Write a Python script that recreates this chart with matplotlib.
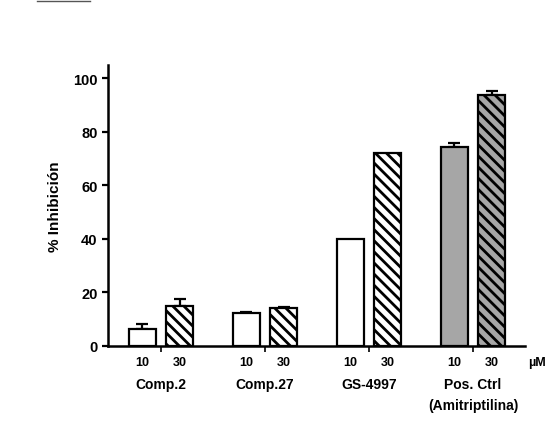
import matplotlib
matplotlib.use('Agg')
import matplotlib.pyplot as plt
import numpy as np

plt.rcParams['font.family'] = ['Liberation Sans', 'DejaVu Sans']
plt.rcParams['hatch.linewidth'] = 2.0

groups = ["Comp.2", "Comp.27", "GS-4997", "Pos. Ctrl\n(Amitriptilina)"]
doses = ["10", "30"]
vals_10 = [6.5, 12.2, 40.0, 74.3]
err_10 = [1.8, 0.5, 0.0, 1.6]
vals_30 = [15.0, 14.2, 72.0, 93.7]
err_30 = [2.4, 0.5, 0.0, 1.4]
fill_10 = ["white", "white", "white", "#a6a6a6"]
fill_30 = ["white", "white", "white", "#a6a6a6"]

fig = plt.figure(figsize=(5.53, 4.31), dpi=100)
ax = fig.add_axes([108 / 553, 84 / 431, (525 - 108) / 553, (347 - 66) / 431])

x = np.arange(len(groups))
off = 0.18
w = 0.26
ax.bar(x - off, vals_10, w, color=fill_10, edgecolor="black", linewidth=1.6, zorder=2)
ax.bar(x + off, vals_30, w, color=fill_30, edgecolor="black", linewidth=1.6,
       hatch="\\\\\\", zorder=2)
for xi, v, e in zip(x - off, vals_10, err_10):
    if e > 0:
        ax.errorbar(xi, v, yerr=[[0], [e]], color="black", capsize=4, elinewidth=1.6,
                    capthick=1.6, zorder=1)
for xi, v, e in zip(x + off, vals_30, err_30):
    if e > 0:
        ax.errorbar(xi, v, yerr=[[0], [e]], color="black", capsize=4, elinewidth=1.6,
                    capthick=1.6, zorder=1)

ax.set_xlim(-0.51, 3.5)
ax.set_ylim(0, 105)
ax.set_yticks([0, 20, 40, 60, 80, 100])
ax.tick_params(axis='y', labelsize=10.5, width=1.6, length=4)
for lab in ax.get_yticklabels():
    lab.set_fontweight("bold")
ax.set_xticks(x)
ax.set_xticklabels([])
ax.tick_params(axis='x', direction='out', length=4, width=1.2)
for s in ["top", "right"]:
    ax.spines[s].set_visible(False)
ax.spines["left"].set_linewidth(1.8)
ax.spines["bottom"].set_linewidth(1.8)
ax.set_ylabel("% Inhibición", fontsize=11, fontweight="bold", labelpad=8)

trans = ax.get_xaxis_transform()
for i in range(len(groups)):
    ax.text(x[i] - off, -0.035, doses[0], transform=trans, ha="center", va="top",
            fontsize=9, fontweight="bold")
    ax.text(x[i] + off, -0.035, doses[1], transform=trans, ha="center", va="top",
            fontsize=9, fontweight="bold")
    ax.text(x[i], -0.11, groups[i], transform=trans, ha="center", va="top",
            fontsize=10, fontweight="semibold", linespacing=1.6)
ax.text(3.53, -0.035, "µM", transform=trans, ha="left", va="top", fontsize=9,
        fontweight="bold", clip_on=False)

fig.add_artist(plt.Line2D([37 / 553, 90 / 553], [1 - 2 / 431, 1 - 2 / 431],
                          color="#555555", linewidth=1))

plt.savefig("out.png")
plt.close()
